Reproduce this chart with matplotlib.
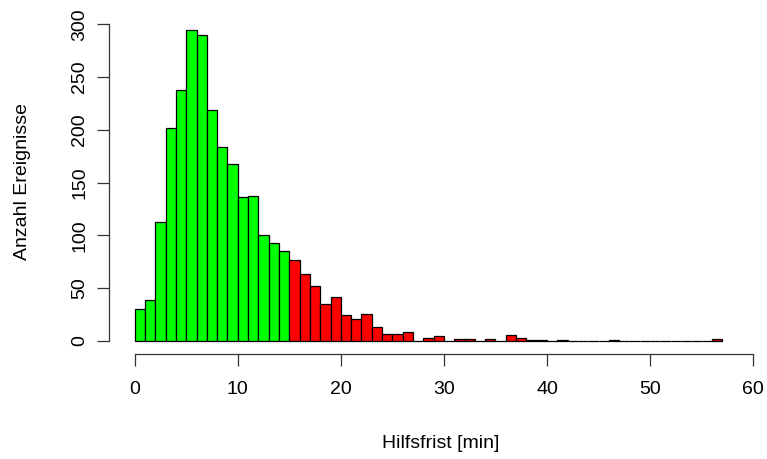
import matplotlib
matplotlib.use("Agg")
import matplotlib.pyplot as plt
import numpy as np

plt.rcParams['font.family'] = ['Liberation Sans', 'DejaVu Sans']

# Histogram of response times (1-minute bins starting at 0)
bin_edges = list(range(0, 58))
counts = [30, 39, 113, 202, 238, 295, 290, 219, 184, 168,
          136, 137, 100, 93, 85, 77, 63, 52, 35, 42,
          25, 21, 26, 13, 7, 7, 9, 0, 3, 5,
          0, 2, 2, 0, 2, 0, 6, 3, 1, 1,
          0, 1, 0, 0, 0, 0, 1, 0, 0, 0,
          0, 0, 0, 0, 0, 0, 2]
threshold = 15
x_ticks = [0, 10, 20, 30, 40, 50, 60]
y_ticks = [0, 50, 100, 150, 200, 250, 300]
x_label = "Hilfsfrist [min]"
y_label = "Anzahl Ereignisse"

fig = plt.figure(figsize=(7.67, 4.59), dpi=100)
ax = fig.add_axes([108.7 / 767, (459 - 354) / 459, (767 - 108.7) / 767, 344 / 459])

lefts = np.array(bin_edges[:-1])
widths = np.diff(bin_edges)
colors = ['#00FF00' if l < threshold else '#FF0000' for l in lefts]
ax.bar(lefts, counts, width=widths, align='edge', color=colors,
       edgecolor='black', linewidth=0.9)

ax.set_xlim(-2.52, 61.34)
ax.set_ylim(-12.3, 313.5)

for s in ['top', 'right']:
    ax.spines[s].set_visible(False)
ax.spines['left'].set_bounds(0, 300)
ax.spines['bottom'].set_bounds(0, 60)
for s in ['left', 'bottom']:
    ax.spines[s].set_linewidth(0.9)
    ax.spines[s].set_color('#333333')

ax.set_xticks(x_ticks)
ax.set_yticks(y_ticks)
ax.set_xticklabels([str(t) for t in x_ticks])
ax.set_yticklabels([str(t) for t in y_ticks], rotation=90, va='center')
ax.tick_params(axis='both', direction='out', length=8.6, width=0.9,
               color='#333333', labelsize=14)
ax.tick_params(axis='x', pad=11)
ax.tick_params(axis='y', pad=6)

fig.text(441 / 767, 1 - 443 / 459, x_label, ha='center', va='center', fontsize=14)
fig.text(23 / 767, 1 - 182 / 459, y_label, ha='center', va='center',
         rotation=90, fontsize=14)

fig.savefig('out.png', dpi=100)
